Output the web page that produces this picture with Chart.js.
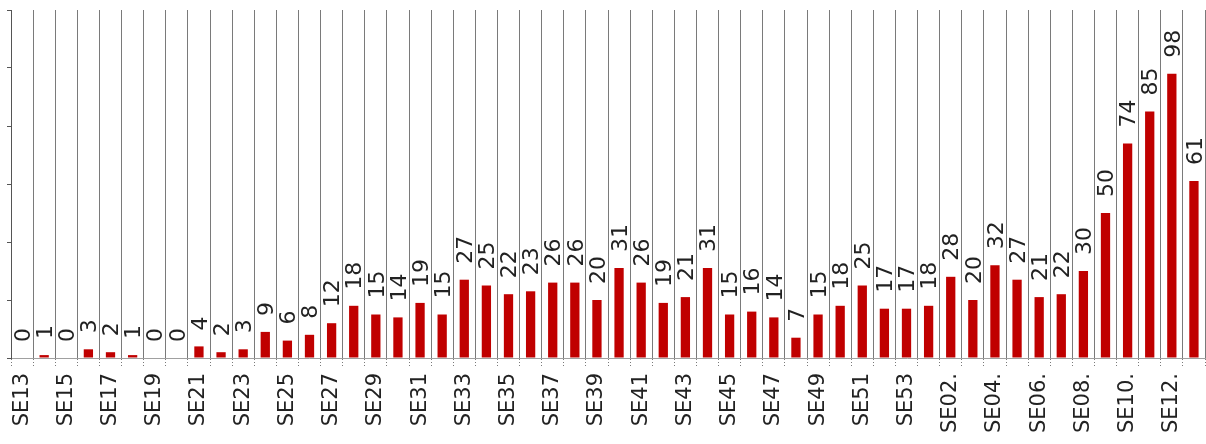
<!DOCTYPE html>
<html>
<head>
<meta charset="utf-8">
<script src="https://cdn.jsdelivr.net/npm/chart.js@4/dist/chart.umd.min.js"></script>
<style>
  html, body { margin: 0; padding: 0; background: #fff; }
  #wrap { width: 1206px; height: 444px; }
</style>
</head>
<body>
<div id="wrap"><canvas id="chart" width="1206" height="444"></canvas></div>
<script>
// week labels (every other one shown on the axis)
var weeks = [
  "SE13", "SE14", "SE15", "SE16", "SE17", "SE18", "SE19", "SE20", "SE21", "SE22",
  "SE23", "SE24", "SE25", "SE26", "SE27", "SE28", "SE29", "SE30", "SE31", "SE32",
  "SE33", "SE34", "SE35", "SE36", "SE37", "SE38", "SE39", "SE40", "SE41", "SE42",
  "SE43", "SE44", "SE45", "SE46", "SE47", "SE48", "SE49", "SE50", "SE51", "SE52",
  "SE53", "SE01.", "SE02.", "SE03.", "SE04.", "SE05.", "SE06.", "SE07.", "SE08.", "SE09.",
  "SE10.", "SE11.", "SE12.", "SE13."
];

var counts = [
  0, 1, 0, 3, 2, 1, 0, 0, 4, 2,
  3, 9, 6, 8, 12, 18, 15, 14, 19, 15,
  27, 25, 22, 23, 26, 26, 20, 31, 26, 19,
  21, 31, 15, 16, 14, 7, 15, 18, 25, 17,
  17, 18, 28, 20, 32, 27, 21, 22, 30, 50,
  74, 85, 98, 61
];

var yMax = 120;
var yStep = 20;

// value labels above the bars, rotated
var barLabels = {
  id: "barLabels",
  afterDatasetsDraw: function (chart) {
    var ctx = chart.ctx;
    var meta = chart.getDatasetMeta(0);
    ctx.save();
    ctx.font = "22px 'DejaVu Sans'";
    ctx.fillStyle = "#222";
    ctx.textAlign = "left";
    ctx.textBaseline = "middle";
    meta.data.forEach(function (bar, i) {
      ctx.save();
      ctx.translate(bar.x + 2, bar.y - 16);
      ctx.rotate(-Math.PI / 2);
      ctx.fillText(String(counts[i]), 0, 0);
      ctx.restore();
    });
    ctx.restore();
  }
};

new Chart(document.getElementById("chart"), {
  type: "bar",
  data: {
    labels: weeks,
    datasets: [{
      data: counts,
      backgroundColor: "#c00000",
      borderWidth: 0,
      barPercentage: 0.42,
      categoryPercentage: 1
    }]
  },
  options: {
    responsive: false,
    animation: false,
    layout: { padding: { left: 7, right: 1, top: 10, bottom: 0 } },
    plugins: { legend: { display: false }, tooltip: { enabled: false } },
    scales: {
      x: {
        offset: true,
        afterFit: function (s) {
          s.height = 86;
          s.paddingLeft = 0;
          s.paddingRight = 0;
        },
        grid: {
          offset: true,
          color: "#7a7a7a",
          lineWidth: 1,
          tickLength: 10,
          tickColor: "#7a7a7a",
          tickBorderDash: [1, 2]
        },
        border: { display: true, color: "#a0a0a0" },
        ticks: {
          autoSkip: false,
          maxRotation: 90,
          minRotation: 90,
          padding: 5,
          color: "#222",
          font: { family: "DejaVu Sans", size: 21 },
          callback: function (v, i) { return i % 2 === 0 ? weeks[i] : ""; }
        }
      },
      y: {
        min: 0,
        max: yMax,
        ticks: { stepSize: yStep, display: false },
        grid: { drawOnChartArea: false, tickLength: 4, tickColor: "#555" },
        border: { display: true, color: "#555" }
      }
    }
  },
  plugins: [barLabels]
});
</script>
</body>
</html>
